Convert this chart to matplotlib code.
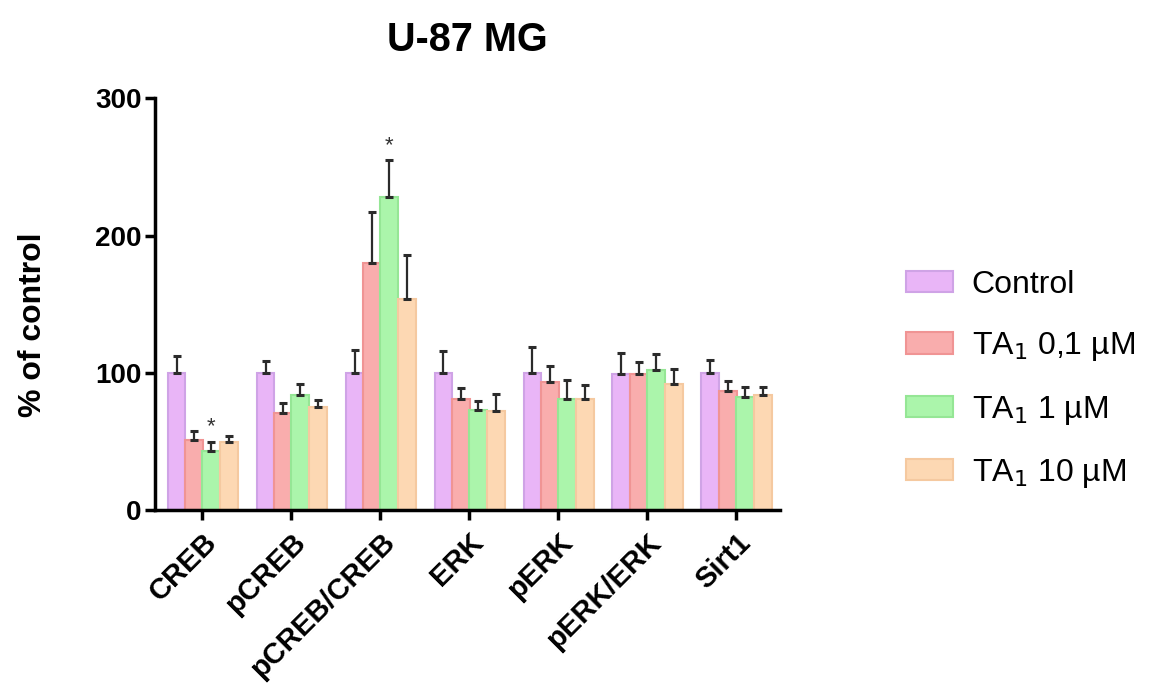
import numpy as np
import matplotlib.pyplot as plt

plt.rcParams['font.family'] = ['Liberation Sans', 'DejaVu Sans']

categories = ['CREB', 'pCREB', 'pCREB/CREB', 'ERK', 'pERK', 'pERK/ERK', 'Sirt1']
groups = ['Control', 'TA$_1$ 0,1 µM', 'TA$_1$ 1 µM', 'TA$_1$ 10 µM']

control = [100, 100, 100, 100, 100, 99.5, 100]
ta_01 = [51, 71, 180, 81, 93.5, 99.5, 86.7]
ta_1 = [43, 84, 228, 72.8, 81, 102, 82.5]
ta_10 = [50, 75, 154, 72, 81, 92, 83.7]

err_control = [12.6, 9, 17, 16, 18.5, 15, 9.7]
err_01 = [7, 7, 37, 8, 11.5, 8.5, 7.3]
err_1 = [7, 8, 27, 6.8, 13.7, 12, 7.5]
err_10 = [4, 5, 32, 12.5, 10.5, 11, 6]

# stars sit over CREB / TA1 1 µM and pCREB/CREB / TA1 1 µM
star_cat = [0, 2]

values = [control, ta_01, ta_1, ta_10]
errors = [err_control, err_01, err_1, err_10]
faces = ['#e9b5f7', '#f9adad', '#abf5ab', '#fdd8b3']
edges = ['#cfa3e6', '#f09494', '#95e695', '#f5c9a0']

fig = plt.figure(figsize=(11.5, 6.97), dpi=100)
ax = fig.add_axes([0.135, 0.268, 0.543, 0.591])

x = np.arange(len(categories))
width = 0.2
offsets = [-0.29, -0.095, 0.1, 0.3]
for vals, errs, fc, ec, off, lab in zip(values, errors, faces, edges, offsets, groups):
    ax.bar(x + off, vals, width, color=fc, edgecolor=ec, linewidth=1.5, label=lab)
    ax.errorbar(x + off, vals, yerr=[np.zeros(len(vals)), errs], fmt='none',
                ecolor='#2b2b2b', elinewidth=1.6, capsize=3, capthick=2.2)

for i in star_cat:
    top = ta_1[i] + err_1[i]
    ax.text(x[i] + offsets[2], top + 3, '*', ha='center', va='bottom', fontsize=16, color='#333333')

ax.set_xlim(-0.53, 6.49)
ax.set_ylim(0, 300)
ax.set_yticks([0, 100, 200, 300])
ax.set_xticks(x)
ax.set_xticklabels(categories, rotation=45, ha='right', rotation_mode='anchor',
                   fontsize=21, fontweight='bold')
for lbl in ax.get_yticklabels():
    lbl.set_fontsize(20)
    lbl.set_fontweight('bold')
ax.tick_params(axis='both', width=2.5, length=7, direction='out')
ax.tick_params(axis='x', pad=6)
ax.tick_params(axis='y', pad=3)
for s in ['top', 'right']:
    ax.spines[s].set_visible(False)
for s in ['left', 'bottom']:
    ax.spines[s].set_linewidth(2.5)

ax.set_ylabel('% of control', fontsize=23, fontweight='bold')
ax.yaxis.set_label_coords(-0.172, 0.45)
ax.set_title('U-87 MG', fontsize=28.5, fontweight='bold', pad=34)

fig.legend(loc='center left', bbox_to_anchor=(0.763, 0.455), frameon=False,
           fontsize=23, handlelength=1.45, handleheight=0.65, labelspacing=0.95,
           handletextpad=0.6)

fig.savefig('out.png', dpi=100)
